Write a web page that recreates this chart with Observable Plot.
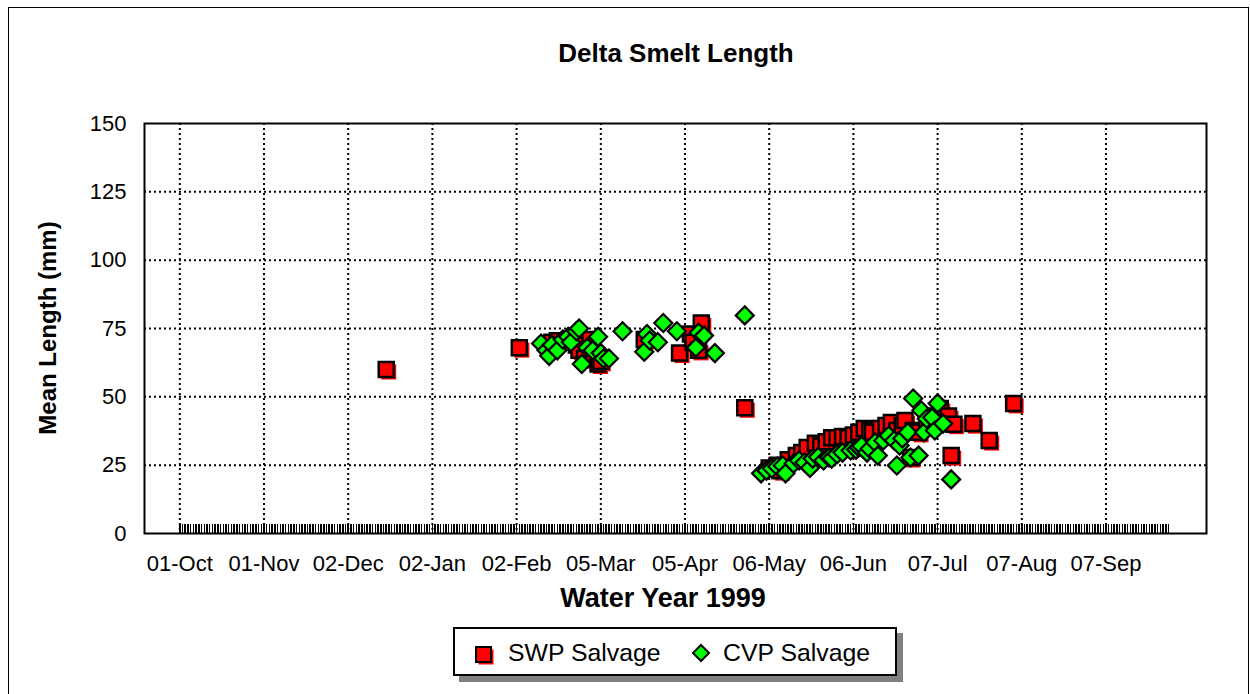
<!DOCTYPE html>
<html><head><meta charset="utf-8">
<script src="https://cdn.jsdelivr.net/npm/d3@7"></script>
<script src="https://cdn.jsdelivr.net/npm/@observablehq/plot@0.6"></script>
<style>
body{margin:0;background:#fff;font-family:"Liberation Sans",Arial,sans-serif;}
#wrap{position:relative;width:1250px;height:694px;overflow:hidden;background:#fff;}
#wrap > * {position:absolute;}
#border{left:8px;top:7px;width:1239px;height:800px;border:1.5px solid #000;}
#title{left:676px;top:40px;transform:translateX(-50%);font-size:26px;font-weight:bold;line-height:1;white-space:nowrap;}
#xlabel{left:663px;top:585px;transform:translateX(-50%);font-size:27px;font-weight:bold;line-height:1;white-space:nowrap;}
#ylabel{left:48px;top:328px;transform:translate(-50%,-50%) rotate(-90deg);font-size:24px;font-weight:bold;line-height:1;white-space:nowrap;}
#legend{left:453px;top:627px;width:444px;height:49px;box-sizing:border-box;border:2.5px solid #000;background:#fff;box-shadow:6px 6px 0 #808080;}
.ltext{font-size:24.8px;line-height:1;white-space:nowrap;top:641px;}
#lsw{left:0;top:0;}
</style></head><body>
<div id="wrap">
  <div id="border"></div>
  <div id="chart"></div>
  <div id="title">Delta Smelt Length</div>
  <div id="xlabel">Water Year 1999</div>
  <div id="ylabel">Mean Length (mm)</div>
  <div id="legend"></div>
  <svg id="lsw" width="1250" height="694">
    <rect x="478.5" y="649.5" width="15" height="15" fill="#ff0000"/>
    <rect x="476" y="647" width="15" height="15" fill="#ff0000" stroke="#000" stroke-width="2"/>
    <polygon points="701,645 709,653 701,661 693,653" fill="#00ff00" stroke="#000" stroke-width="2"/>
  </svg>
  <div class="ltext" style="left:508px">SWP Salvage</div>
  <div class="ltext" style="left:723px">CVP Salvage</div>
</div>
<script>
// ---- data ----
const xTickLabels = ["1998-10-01","1998-11-01","1998-12-02","1999-01-02","1999-02-02","1999-03-05","1999-04-05","1999-05-06","1999-06-06","1999-07-07","1999-08-07","1999-09-07"];
const yTicks = [0, 25, 50, 75, 100, 125, 150];

const swpDates = ["1998-12-16","1999-02-03","1999-02-15","1999-02-17","1999-02-24","1999-02-25","1999-02-27","1999-03-01","1999-03-02","1999-03-04","1999-03-05","1999-03-21","1999-04-03","1999-04-07","1999-04-08","1999-04-10","1999-04-11","1999-04-27","1999-05-06","1999-05-09","1999-05-10","1999-05-13","1999-05-16","1999-05-18","1999-05-20","1999-05-23","1999-05-25","1999-05-27","1999-05-29","1999-05-31","1999-06-02","1999-06-04","1999-06-06","1999-06-08","1999-06-10","1999-06-12","1999-06-13","1999-06-16","1999-06-18","1999-06-20","1999-06-22","1999-06-24","1999-06-25","1999-06-27","1999-06-28","1999-06-30","1999-07-03","1999-07-05","1999-07-08","1999-07-11","1999-07-12","1999-07-13","1999-07-20","1999-07-26","1999-08-04"];
const swpLength = [60,68,70,70.5,69,67,64,71,66,62,63,71,66,73,70,67,77,46,24,25,23,27,28.5,29.6,31.5,33,32,33.6,35,35,35.5,35,36,37,38.4,37.7,37,38.4,39.5,40.6,37.7,39.5,41.3,27.8,37.7,37,41,43,45.7,43,28.5,40,40.2,34,47.6];

const cvpDates = ["1999-02-11","1999-02-13","1999-02-14","1999-02-15","1999-02-17","1999-02-19","1999-02-21","1999-02-22","1999-02-24","1999-02-25","1999-02-26","1999-02-28","1999-03-02","1999-03-04","1999-03-05","1999-03-06","1999-03-08","1999-03-13","1999-03-21","1999-03-22","1999-03-23","1999-03-26","1999-03-28","1999-04-02","1999-04-09","1999-04-10","1999-04-12","1999-04-16","1999-04-27","1999-05-03","1999-05-05","1999-05-07","1999-05-09","1999-05-11","1999-05-12","1999-05-15","1999-05-17","1999-05-19","1999-05-21","1999-05-22","1999-05-24","1999-05-26","1999-05-28","1999-05-29","1999-05-31","1999-06-02","1999-06-05","1999-06-07","1999-06-08","1999-06-09","1999-06-11","1999-06-12","1999-06-14","1999-06-15","1999-06-17","1999-06-19","1999-06-21","1999-06-22","1999-06-23","1999-06-24","1999-06-26","1999-06-27","1999-06-28","1999-06-30","1999-07-01","1999-07-02","1999-07-03","1999-07-05","1999-07-06","1999-07-07","1999-07-09","1999-07-12"];
const cvpLength = [69.5,67,65,69,67,71,72,70,74,75,62,68,67,72,66,64,64,74,66.5,73,70.6,70,77,74,68,73.5,72.4,66,79.8,22,23,23.8,24.5,24.9,22,25.6,26.7,26,24,27.4,28,26.7,27.8,27.4,29,29.6,30.4,30.7,31.5,32,29.6,31,33.3,28.5,34,35.8,34,24.9,32.2,34.8,37,27.8,49.4,28.5,45,37,42,42.4,37.7,47.6,40.2,19.8];

// days with zero catch (baseline hatch): every day of water year 1999
const zeroStart = "1998-10-01", zeroEnd = "1999-10-01";

// ---- build ----
const parse = d3.utcParse("%Y-%m-%d");
const tickDates = xTickLabels.map(parse);
const swp = swpDates.map((d, i) => ({date: parse(d), len: swpLength[i]}));
const cvp = cvpDates.map((d, i) => ({date: parse(d), len: cvpLength[i]}));
const zeroDays = d3.utcDay.range(parse(zeroStart), parse(zeroEnd)).map(d => ({date: d, len: 0}));

const squareSym = {draw(ctx, size){ const r = Math.sqrt(size / Math.PI); ctx.rect(-r, -r, 2*r, 2*r); }};
const diamondSym = {draw(ctx, size){ const r = Math.sqrt(size / Math.PI); ctx.moveTo(0,-r); ctx.lineTo(r,0); ctx.lineTo(0,r); ctx.lineTo(-r,0); ctx.closePath(); }};

const dotted = {stroke: "#000", strokeOpacity: 1, strokeWidth: 2, strokeDasharray: "2,3"};

const chart = Plot.plot({
  width: 1250, height: 694,
  marginTop: 123, marginBottom: 161, marginLeft: 144, marginRight: 44,
  style: {fontFamily: "Liberation Sans, Arial, sans-serif", fontSize: "22px", color: "#000", background: "transparent", overflow: "visible"},
  x: {type: "utc", domain: [parse("1998-09-18"), parse("1999-10-14")]},
  y: {domain: [0, 150]},
  marks: [
    Plot.gridX({ticks: tickDates, ...dotted}),
    Plot.gridY({ticks: yTicks.filter(v => v > 0 && v < 150), ...dotted}),
    Plot.ruleX(zeroDays, {x: "date", y1: "len", y2: "len", insetTop: -9, stroke: "#000", strokeWidth: 1.5, shapeRendering: "crispEdges"}),
    Plot.frame({stroke: "#000", strokeWidth: 2}),
    Plot.axisX({ticks: tickDates, tickFormat: d3.utcFormat("%d-%b"), tickSize: 0, tickPadding: 22, label: null}),
    Plot.axisY({ticks: yTicks, tickSize: 0, tickPadding: 18, label: null}),
    Plot.dot(swp, {x: "date", y: "len", symbol: squareSym, r: 7.5, fill: "#ff0000", stroke: "none", dx: 2.5, dy: 2.5}),
    Plot.dot(swp, {x: "date", y: "len", symbol: squareSym, r: 7.5, fill: "#ff0000", stroke: "#000", strokeWidth: 2.5}),
    Plot.dot(cvp, {x: "date", y: "len", symbol: diamondSym, r: 9, fill: "#00ff00", stroke: "#000", strokeWidth: 2.2})
  ]
});
document.getElementById("chart").appendChild(chart);
</script>
</body></html>
